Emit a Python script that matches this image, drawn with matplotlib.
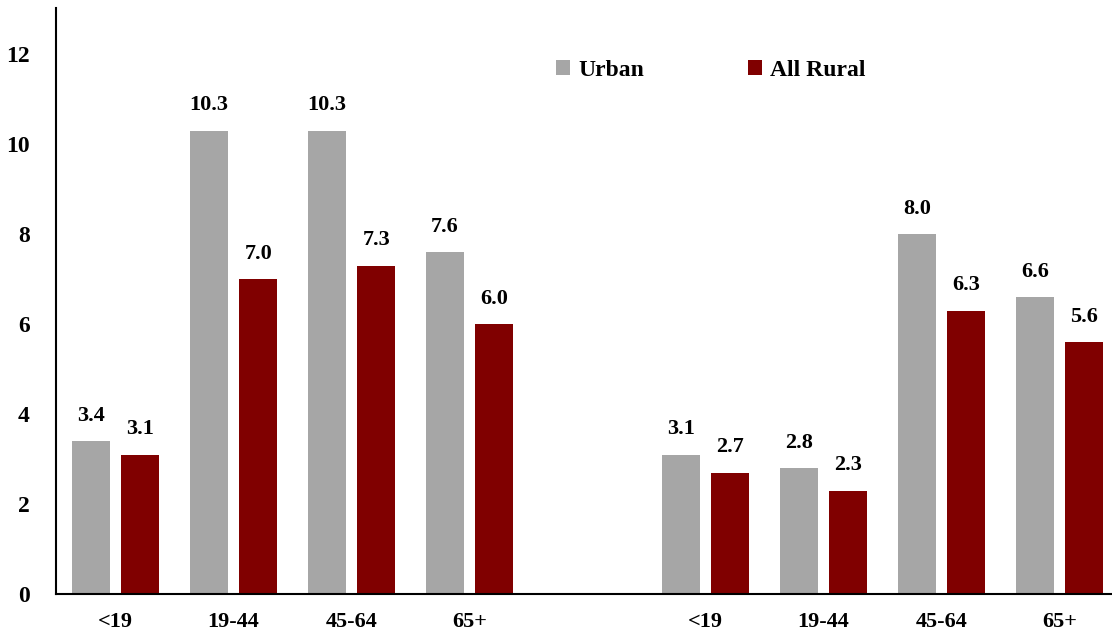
import numpy as np
import matplotlib
matplotlib.use('Agg')
import matplotlib.pyplot as plt

plt.rcParams['font.family'] = ['Liberation Serif', 'DejaVu Serif']
plt.rcParams['font.weight'] = 'bold'

age_groups = ['<19', '19-44', '45-64', '65+']
urban_left = [3.4, 10.3, 10.3, 7.6]
rural_left = [3.1, 7.0, 7.3, 6.0]
urban_right = [3.1, 2.8, 8.0, 6.6]
rural_right = [2.7, 2.3, 6.3, 5.6]

urban_color = '#A6A6A6'
rural_color = '#800000'

# two panels of age groups with an empty gap between them
x = np.array([0, 1, 2, 3, 5, 6, 7, 8])
urban = urban_left + urban_right
rural = rural_left + rural_right
labels = age_groups + age_groups

fig = plt.figure(figsize=(11.12, 6.34), dpi=100)
ax = fig.add_axes([0.0504, 0.0631, 0.9496, 0.924])

w = 0.32
off = 0.208
b1 = ax.bar(x - off, urban, w, color=urban_color, label='Urban')
b2 = ax.bar(x + off, rural, w, color=rural_color, label='All Rural')

for bars, vals in [(b1, urban), (b2, rural)]:
    for r, v in zip(bars, vals):
        ax.annotate(f'{v:.1f}', (r.get_x() + r.get_width() / 2, v),
                    xytext=(0, 11), textcoords='offset points',
                    ha='center', va='bottom', fontsize=16, fontweight='bold')

ax.set_xlim(-0.505, 8.445)
ax.set_ylim(0, 13.02)
ax.set_yticks(range(0, 13, 2))
ax.set_xticks(x)
ax.set_xticklabels(labels)
ax.tick_params(axis='both', length=0)
ax.tick_params(axis='x', pad=13, labelsize=16)
ax.tick_params(axis='y', pad=19, labelsize=17)
for lab in ax.get_xticklabels() + ax.get_yticklabels():
    lab.set_fontweight('bold')

ax.spines['top'].set_visible(False)
ax.spines['right'].set_visible(False)
ax.spines['left'].set_linewidth(1.5)
ax.spines['bottom'].set_linewidth(1.5)

ax.legend(loc='center', bbox_to_anchor=(0.62, 0.894), ncol=2, frameon=False,
          handlelength=0.6, handleheight=0.6, handletextpad=0.35,
          columnspacing=4.4, prop={'size': 17, 'weight': 'bold'})

fig.savefig('out.png', dpi=100)
